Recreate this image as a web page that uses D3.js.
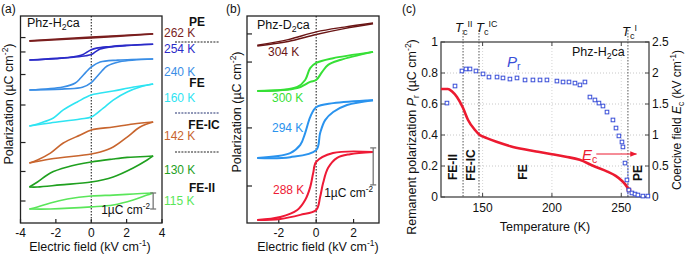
<!DOCTYPE html>
<html><head><meta charset="utf-8">
<script src="https://cdn.jsdelivr.net/npm/d3@7"></script>
<style>body{margin:0;background:#fff} text{font-family:'Liberation Sans',Arial,sans-serif}</style>
</head><body><svg id="c" width="687" height="255"></svg>
<script>
// ---------- Panel (a) data: Phz-H2ca, E in kV/cm, P in µC/cm2 relative to curve offset ----------
const fieldTicksA = [-4, -2, 0, 2, 4];
const tempsA = ["262 K", "254 K", "240 K", "160 K", "142 K", "130 K", "115 K"];
const colorsA = ["#7a1e1e", "#2b2bc8", "#3a8ee6", "#2ee4f2", "#c8652e", "#1fa01f", "#5ae65a"];
const offsetsA = [11.59, 10.69, 9.28, 7.375, 5.03, 3.22, 1.375];
const upper262 = [[-3.5,-0.2],[0,0.03],[3.5,0.24]];
const lower262 = [[-3.5,-0.22],[0,-0.02],[3.5,0.22]];
const upper254 = [[-3.5,-0.5],[-2,-0.4],[-1,-0.3],[-0.5,-0.18],[-0.25,-0.02],[0,0.14],[0.3,0.24],[1,0.33],[2,0.41],[3.5,0.48]];
const lower254 = [[-3.5,-0.5],[-2,-0.42],[-1,-0.33],[-0.3,-0.24],[0,-0.16],[0.25,0.02],[0.5,0.18],[1,0.3],[2,0.4],[3.5,0.48]];
const upper240 = [[-3.5,-0.97],[-1.6,-0.78],[-0.9,-0.53],[-0.6,-0.22],[-0.3,0.15],[0,0.47],[0.5,0.78],[1.5,0.9],[3.5,0.97]];
const lower240 = [[-3.5,-0.97],[-1.5,-0.9],[-0.5,-0.8],[0,-0.5],[0.3,-0.15],[0.6,0.22],[0.9,0.53],[1.6,0.8],[3.5,0.97]];
const upper160 = [[-3.5,-1.31],[-2.87,-1.12],[-2.14,-0.81],[-1.58,-0.31],[-0.79,0.19],[0,0.62],[1.24,0.87],[2.4,1.12],[3.5,1.31]];
const lower160 = [[-3.5,-1.31],[-2.31,-1.12],[-0.62,-0.87],[0,-0.75],[0.68,-0.19],[1.24,0.31],[2.03,0.81],[2.76,1.12],[3.5,1.31]];
const upper142 = [[-3.5,-1.28],[-3.04,-1.09],[-2.31,-0.66],[-1.58,-0.03],[-0.62,0.47],[0,0.78],[1.24,0.97],[2.37,1.16],[3.5,1.28]];
const lower142 = [[-3.5,-1.28],[-2.31,-1.03],[0,-0.72],[0.51,-0.59],[1.24,-0.28],[2.03,0.34],[2.76,0.97],[3.5,1.28]];
const upper130 = [[-3.5,-0.97],[-3.04,-0.66],[-2.31,-0.09],[-1.35,0.28],[0,0.59],[1.24,0.78],[2.03,0.88],[2.76,0.92],[3.5,0.97]];
const lower130 = [[-3.5,-0.97],[-3.04,-0.97],[-1.75,-0.84],[0,-0.66],[1.24,-0.34],[2.37,0.22],[3.16,0.72],[3.5,0.97]];
const upper115 = [[-3.5,-0.5],[-3.04,-0.37],[-2.31,-0.12],[-1.35,0.12],[0,0.31],[1.24,0.37],[2.37,0.44],[3.5,0.5]];
const lower115 = [[-3.5,-0.5],[-2.31,-0.5],[0,-0.37],[1.24,-0.25],[2.37,0.06],[3.16,0.37],[3.5,0.5]];
const loopsA = [[upper262,lower262],[upper254,lower254],[upper240,lower240],[upper160,lower160],[upper142,lower142],[upper130,lower130],[upper115,lower115]];
const scaleBarA = [0.875, 1.875];

// ---------- Panel (b) data: Phz-D2ca ----------
const fieldTicksB = [-2, 0, 2];
const tempsB = ["304 K", "300 K", "294 K", "288 K"];
const colorsB = ["#6a1616", "#36e036", "#2a93ee", "#ee1a36"];
const offsetsB = [5.095, 4.095, 2.54, 1.0];
const tickValsB = [5.11, 4.35, 2.57, 1.0];
const upper304 = [[-3.15,-0.29],[-1.5,-0.14],[0,0.07],[1.5,0.2],[3.04,0.31]];
const lower304 = [[-3.15,-0.31],[-1.5,-0.19],[0,0.0],[1.5,0.16],[3.04,0.29]];
const upper300 = [[-3.15,-0.53],[-1.01,-0.42],[-0.59,-0.23],[-0.32,0.09],[0,0.23],[0.91,0.36],[3.04,0.53]];
const lower300 = [[-3.15,-0.53],[-1.01,-0.45],[-0.32,-0.28],[0,-0.23],[0.32,-0.01],[0.64,0.18],[1.28,0.31],[3.04,0.53]];
const upper294 = [[-3.15,-0.78],[-1.39,-0.65],[-0.85,-0.43],[-0.59,-0.11],[-0.32,0.32],[0,0.59],[0.91,0.70],[3.04,0.78]];
const lower294 = [[-3.15,-0.78],[-1.39,-0.76],[0,-0.57],[0.21,-0.11],[0.48,0.24],[0.91,0.46],[1.65,0.65],[3.04,0.78]];
const upper288 = [[-3.15,-0.92],[-1.92,-0.84],[-1.01,-0.65],[-0.59,-0.38],[-0.32,-0.03],[-0.16,0.35],[0,0.65],[0.9,0.89],[3.04,0.92]];
const lower288 = [[-3.15,-0.92],[-1.92,-0.89],[-0.85,-0.78],[0,-0.65],[0.21,-0.3],[0.37,0.08],[0.64,0.49],[1.12,0.76],[1.81,0.86],[3.04,0.92]];
const loopsB = [[upper304,lower304],[upper300,lower300],[upper294,lower294],[upper288,lower288]];
const scaleBarB = [1.03, 2.03];

// ---------- Panel (c) data: temperature dependence ----------
const tempTicksC = [150, 200, 250];
const prTicksC = [0, 0.2, 0.4, 0.6, 0.8, 1];
const ecTicksC = [0, 0.5, 1, 1.5, 2, 2.5];
const prTemp = [124.3,130.1,135.1,138,140.9,145.2,150.3,154.6,160.4,164.7,169.7,174.8,180.6,186.3,191.4,196.4,203.6,208,212.3,216.6,220.2,223.8,227.4,231,233.9,236.8,239.7,244,246.2,248.3,250.5,251.2,252.7,254.1,255.5,257.7,259.9,262,265.6,269.2];
const prVal  = [0.606,0.716,0.813,0.826,0.826,0.813,0.794,0.774,0.774,0.768,0.761,0.768,0.755,0.755,0.755,0.755,0.748,0.742,0.742,0.735,0.723,0.742,0.645,0.626,0.606,0.587,0.548,0.497,0.445,0.394,0.355,0.323,0.219,0.11,0.045,0.026,0.019,0.013,0.006,0.006];
const ecTemp = [120,125,128,131.5,135.9,139.5,144.5,148,153,160,170,180,190,200,210,220,230,240,246,250,253,254.5,255.5];
const ecVal  = [1.742,1.742,1.70,1.613,1.435,1.242,1.081,1.0,0.95,0.89,0.82,0.77,0.73,0.69,0.65,0.6,0.5,0.41,0.34,0.27,0.2,0.15,0.115];
const transitionsC = [135.9, 147.4, 254.8];

const svg = d3.select("#c");

// rich text helper: parts = [[text, kind]] kind: n, i, sub, sup
function rich(g, x, y, parts, opt = {}) {
  const t = g.append("text").attr("x", x).attr("y", y)
    .attr("font-size", opt.size || 12).attr("fill", opt.fill || "#111")
    .attr("text-anchor", opt.anchor || "start")
    .attr("font-weight", opt.weight || "normal");
  let shift = 0;
  parts.forEach(([s, k]) => {
    const ts = t.append("tspan").text(s);
    let target = 0;
    if (k === "sub") { target = 3; ts.attr("font-size", (opt.size || 12) * 0.7); }
    else if (k === "sup") { target = -5; ts.attr("font-size", (opt.size || 12) * 0.68); }
    if (k === "i") ts.attr("font-style", "italic");
    ts.attr("dy", target - shift);
    shift = target;
  });
  return t;
}
function rotLabel(x, y, parts, opt = {}) {
  const g = svg.append("g").attr("transform", `translate(${x},${y}) rotate(-90)`);
  rich(g, 0, 0, parts, Object.assign({ anchor: "middle" }, opt));
}

// ================= Panel (a) =================
const xA = d3.scaleLinear().domain([-4, 4]).range([20.5, 162]);
const yA = d3.scaleLinear().domain([0, 13]).range([223, 15]);
const gA = svg.append("g");
gA.append("rect").attr("x", xA(-4)).attr("y", 16).attr("width", xA(4) - xA(-4)).attr("height", 223 - 16)
  .attr("fill", "none").attr("stroke", "#222").attr("stroke-width", 1.3);
gA.append("line").attr("x1", xA(0)).attr("x2", xA(0)).attr("y1", 16).attr("y2", 223)
  .attr("stroke", "#111").attr("stroke-dasharray", "1.5,1.5");
gA.selectAll(".xt").data(fieldTicksA).join("line").attr("x1", d => xA(d)).attr("x2", d => xA(d))
  .attr("y1", 223).attr("y2", 219).attr("stroke", "#222").attr("stroke-width", 1.2);
gA.selectAll(".xl").data(fieldTicksA).join("text").attr("x", d => xA(d)).attr("y", 237)
  .attr("text-anchor", "middle").attr("font-size", 12).attr("fill", "#111").text(d => d);
gA.selectAll(".yt").data(offsetsA).join("line").attr("x1", xA(-4)).attr("x2", xA(-4) + 5)
  .attr("y1", d => yA(d)).attr("y2", d => yA(d)).attr("stroke", "#222").attr("stroke-width", 1.2);
const lineA = off => d3.line().x(d => xA(d[0])).y(d => yA(off + d[1])).curve(d3.curveCatmullRom.alpha(0.5));
loopsA.forEach((lp, i) => {
  lp.forEach(br => gA.append("path").attr("d", lineA(offsetsA[i])(br)).attr("fill", "none")
    .attr("stroke", colorsA[i]).attr("stroke-width", 1.6));
});
const labelYA = [37, 53, 76, 102, 140, 174, 205];
tempsA.forEach((t, i) => gA.append("text").attr("x", 164).attr("y", labelYA[i]).attr("font-size", 12)
  .attr("fill", colorsA[i]).text(t));
[["PE", 197, 26], ["FE", 197, 87], ["FE-IC", 204, 129], ["FE-II", 202, 192]].forEach(([s, x, y]) =>
  gA.append("text").attr("x", x).attr("y", y).attr("text-anchor", "middle").attr("font-size", 12)
    .attr("font-weight", "bold").attr("fill", "#111").text(s));
[[42, "#222"], [113, "#223070"], [152, "#222"]].forEach(([y, c]) =>
  gA.append("line").attr("x1", 175).attr("x2", 219).attr("y1", y).attr("y2", y)
    .attr("stroke", c).attr("stroke-width", 1.2).attr("stroke-dasharray", "2,1.2"));
const sbx = xA(3.5);
gA.append("line").attr("x1", sbx).attr("x2", sbx).attr("y1", yA(scaleBarA[0])).attr("y2", yA(scaleBarA[1])).attr("stroke", "#777").attr("stroke-width", 1.3);
scaleBarA.forEach(v => gA.append("line").attr("x1", sbx - 3).attr("x2", sbx + 3).attr("y1", yA(v)).attr("y2", yA(v)).attr("stroke", "#777").attr("stroke-width", 1.3));
rich(gA, 150, 214, [["1µC cm", "n"], ["-2", "sup"]], { anchor: "end" });
rich(gA, 27, 27, [["Phz-H", "n"], ["2", "sub"], ["ca", "n"]], { size: 12.5 });
gA.append("text").attr("x", 1).attr("y", 13).attr("font-size", 12).attr("fill", "#111").text("(a)");
rich(gA, 90, 251, [["Electric field  (kV cm", "n"], ["-1", "sup"], [")", "n"]], { anchor: "middle", size: 12.5 });
rotLabel(13, 104, [["Polarization  (µC cm", "n"], ["-2", "sup"], [")", "n"]], { size: 12.5 });

// ================= Panel (b) =================
const xB = d3.scaleLinear().domain([-3.7, 3.36]).range([247, 379]);
const yB = d3.scaleLinear().domain([0, 207 / 37]).range([223, 16]);
const gB = svg.append("g");
gB.append("rect").attr("x", xB(-3.7)).attr("y", 16).attr("width", xB(3.36) - xB(-3.7)).attr("height", 207)
  .attr("fill", "none").attr("stroke", "#222").attr("stroke-width", 1.3);
gB.append("line").attr("x1", xB(0)).attr("x2", xB(0)).attr("y1", 16).attr("y2", 223)
  .attr("stroke", "#111").attr("stroke-dasharray", "1.5,1.5");
gB.selectAll(".xt").data(fieldTicksB).join("line").attr("x1", d => xB(d)).attr("x2", d => xB(d))
  .attr("y1", 223).attr("y2", 219).attr("stroke", "#222").attr("stroke-width", 1.2);
gB.selectAll(".xl").data(fieldTicksB).join("text").attr("x", d => xB(d)).attr("y", 237)
  .attr("text-anchor", "middle").attr("font-size", 12).attr("fill", "#111").text(d => d);
gB.selectAll(".yt").data(tickValsB).join("line").attr("x1", xB(-3.7)).attr("x2", xB(-3.7) + 5)
  .attr("y1", d => yB(d)).attr("y2", d => yB(d)).attr("stroke", "#222").attr("stroke-width", 1.2);
const lineB = off => d3.line().x(d => xB(d[0])).y(d => yB(off + d[1])).curve(d3.curveCatmullRom.alpha(0.5));
loopsB.forEach((lp, i) => {
  lp.forEach(br => gB.append("path").attr("d", lineB(offsetsB[i])(br)).attr("fill", "none")
    .attr("stroke", colorsB[i]).attr("stroke-width", i === 0 ? 1.4 : 2));
});
const labelPosB = [[268, 56], [272, 102], [272, 132], [273, 194]];
tempsB.forEach((t, i) => gB.append("text").attr("x", labelPosB[i][0]).attr("y", labelPosB[i][1]).attr("font-size", 12)
  .attr("fill", colorsB[i]).text(t));
const sbxB = xB(3.05);
gB.append("line").attr("x1", sbxB).attr("x2", sbxB).attr("y1", yB(scaleBarB[0])).attr("y2", yB(scaleBarB[1])).attr("stroke", "#777").attr("stroke-width", 1.3);
scaleBarB.forEach(v => gB.append("line").attr("x1", sbxB - 3).attr("x2", sbxB + 3).attr("y1", yB(v)).attr("y2", yB(v)).attr("stroke", "#777").attr("stroke-width", 1.3));
rich(gB, 373, 197, [["1µC cm", "n"], ["-2", "sup"]], { anchor: "end" });
rich(gB, 257, 29, [["Phz-D", "n"], ["2", "sub"], ["ca", "n"]], { size: 12.5 });
gB.append("text").attr("x", 226).attr("y", 13).attr("font-size", 12).attr("fill", "#111").text("(b)");
rich(gB, 318, 251, [["Electric field  (kV cm", "n"], ["-1", "sup"], [")", "n"]], { anchor: "middle", size: 12.5 });
rotLabel(241, 112, [["Polarization  (µC cm", "n"], ["-2", "sup"], [")", "n"]], { size: 12.5 });

// ================= Panel (c) =================
const xC = d3.scaleLinear().domain([120, 270]).range([441, 649]);
const yL = d3.scaleLinear().domain([0, 1]).range([197, 42]);
const yR = d3.scaleLinear().domain([0, 2.5]).range([197, 42]);
const gC = svg.append("g");
gC.selectAll(".gh").data(prTicksC.slice(1, 5)).join("line").attr("x1", xC(120)).attr("x2", xC(270))
  .attr("y1", d => yL(d)).attr("y2", d => yL(d)).attr("stroke", "#c8c8c8").attr("stroke-dasharray", "1,2");
gC.selectAll(".gv").data(tempTicksC).join("line").attr("x1", d => xC(d)).attr("x2", d => xC(d))
  .attr("y1", 42).attr("y2", 197).attr("stroke", "#d4d4d4").attr("stroke-dasharray", "1,2");
transitionsC.forEach(t => gC.append("line").attr("x1", xC(t)).attr("x2", xC(t)).attr("y1", 30).attr("y2", 197)
  .attr("stroke", "#555").attr("stroke-dasharray", "1.5,1.5"));
gC.append("line").attr("x1", xC(transitionsC[2])).attr("x2", xC(transitionsC[2])).attr("y1", yL(0.2)).attr("y2", 197)
  .attr("stroke", "#3a50e0").attr("stroke-dasharray", "1.5,1.5");
gC.append("rect").attr("x", 441).attr("y", 42).attr("width", 208).attr("height", 155)
  .attr("fill", "none").attr("stroke", "#444").attr("stroke-width", 1.3);
gC.selectAll(".tb").data(tempTicksC).join("line").attr("x1", d => xC(d)).attr("x2", d => xC(d)).attr("y1", 197).attr("y2", 193).attr("stroke", "#444");
gC.selectAll(".tt").data(tempTicksC).join("line").attr("x1", d => xC(d)).attr("x2", d => xC(d)).attr("y1", 42).attr("y2", 46).attr("stroke", "#444");
gC.selectAll(".tl").data(prTicksC).join("line").attr("x1", 441).attr("x2", 445).attr("y1", d => yL(d)).attr("y2", d => yL(d)).attr("stroke", "#444");
gC.selectAll(".tr").data(ecTicksC).join("line").attr("x1", 649).attr("x2", 645).attr("y1", d => yR(d)).attr("y2", d => yR(d)).attr("stroke", "#444");
gC.selectAll(".xl").data(tempTicksC).join("text").attr("x", d => xC(d)).attr("y", 212).attr("text-anchor", "middle").attr("font-size", 12).attr("fill", "#111").text(d => d);
gC.selectAll(".yl").data(prTicksC).join("text").attr("x", 438).attr("y", d => yL(d) + 4).attr("text-anchor", "end").attr("font-size", 12).attr("fill", "#111").text(d => d);
gC.selectAll(".yr").data(ecTicksC).join("text").attr("x", 652).attr("y", d => yR(d) + 4).attr("font-size", 12).attr("fill", "#111").text(d => d);
gC.append("path").attr("d", d3.line().x(d => xC(d[0])).y(d => yR(d[1])).curve(d3.curveMonotoneX)(ecTemp.map((t, i) => [t, ecVal[i]])))
  .attr("fill", "none").attr("stroke", "#ec1a30").attr("stroke-width", 2.6);
gC.append("circle").attr("cx", xC(ecTemp[ecTemp.length - 1])).attr("cy", yR(ecVal[ecVal.length - 1])).attr("r", 2.5).attr("fill", "#ec1a30");
gC.selectAll(".pr").data(prTemp.map((t, i) => [t, prVal[i]])).join("rect")
  .attr("x", d => xC(d[0]) - 1.8).attr("y", d => yL(d[1]) - 1.8).attr("width", 3.6).attr("height", 3.6)
  .attr("fill", "#fff").attr("stroke", "#3a4fd8").attr("stroke-width", 1);
rich(gC, 455, 32, [["T", "i"], ["c", "sub"], ["II", "sup"]], { size: 13 });
rich(gC, 476, 32, [["T", "i"], ["c", "sub"], ["IC", "sup"]], { size: 13 });
rich(gC, 622, 36, [["T", "i"], ["c", "sub"], ["I", "sup"]], { size: 13 });
rich(gC, 507, 67, [["P", "i"], ["r", "sub"]], { size: 15, fill: "#3a4fd8" });
rich(gC, 582, 160, [["E", "i"], ["c", "sub"]], { size: 15, fill: "#ec1a30" });
gC.append("defs").append("marker").attr("id", "ah").attr("viewBox", "0 0 10 10").attr("refX", 9).attr("refY", 5)
  .attr("markerWidth", 7).attr("markerHeight", 7).attr("orient", "auto")
  .append("path").attr("d", "M0,1 L10,5 L0,9 z").attr("fill", "#ec1a30");
gC.append("line").attr("x1", xC(232)).attr("x2", xC(261)).attr("y1", 154).attr("y2", 154)
  .attr("stroke", "#ec1a30").attr("stroke-width", 1).attr("marker-end", "url(#ah)");
rich(gC, 572, 56, [["Phz-H", "n"], ["2", "sub"], ["ca", "n"]], { size: 12.5 });
gC.append("text").attr("x", 402).attr("y", 13).attr("font-size", 12).attr("fill", "#111").text("(c)");
[["FE-II", 457, 167], ["FE-IC", 475, 165], ["FE", 527, 172], ["PE", 642, 173]].forEach(([s, x, y]) => {
  svg.append("text").attr("transform", `translate(${x},${y}) rotate(-90)`).attr("text-anchor", "middle")
    .attr("font-size", 12).attr("font-weight", "bold").attr("fill", "#111").text(s);
});
gC.append("text").attr("x", 545).attr("y", 231).attr("text-anchor", "middle").attr("font-size", 12.5).attr("fill", "#111").text("Temperature (K)");
rotLabel(416, 137, [["Remanent polarization  ", "n"], ["P", "i"], ["r", "sub"], [" (µC cm", "n"], ["-2", "sup"], [")", "n"]], { size: 12.5 });
rotLabel(681, 120, [["Coercive field  ", "n"], ["E", "i"], ["c", "sub"], [" (kV cm", "n"], ["-1", "sup"], [")", "n"]], { size: 12 });
</script></body></html>
